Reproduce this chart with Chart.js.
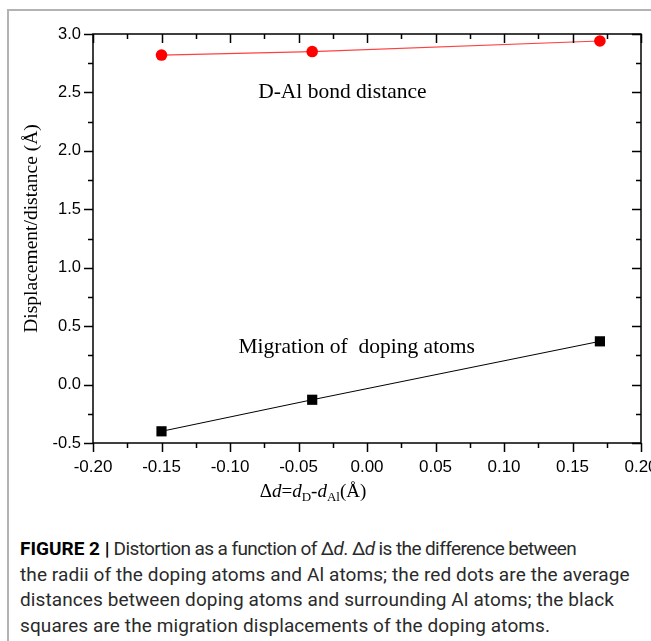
<!DOCTYPE html>
<html>
<head>
<meta charset="utf-8">
<script src="https://cdn.jsdelivr.net/npm/chart.js@4.4.0/dist/chart.umd.min.js"></script>
<style>
  html, body { margin: 0; padding: 0; background: #fff; }
  body { width: 651px; height: 641px; overflow: hidden; position: relative; }
  #frame { position: absolute; left: 7px; top: 9px; width: 660px; height: 650px;
           border-top: 2px solid #b3b3b3; border-left: 2px solid #b3b3b3; }
  #chart { position: absolute; left: 0; top: 0; }
  #xtitle { position: absolute; left: 213px; width: 200px; top: 479px; text-align: center;
            font-family: "Liberation Serif", serif; font-size: 19px; line-height: 24px; color: #000; white-space: nowrap; }
  #xtitle sub { font-size: 13px; vertical-align: -4px; line-height: 0; }
  #caption { position: absolute; left: 20px; top: 536px; font-family: Roboto, sans-serif;
             font-size: 19px; letter-spacing: 0.1px; line-height: 25.7px; color: #2a2a2a; white-space: nowrap; }
  #caption b { color: #000; letter-spacing: 0; }
  #caption .tight { letter-spacing: -0.6px; }
</style>
</head>
<body>
<div id="frame"></div>
<canvas id="chart" width="680" height="520"></canvas>
<div id="xtitle">&Delta;<i>d</i>=<i>d</i><sub>D</sub>-<i>d</i><sub>Al</sub>(&Aring;)</div>
<div id="caption"><b>FIGURE 2 |</b><span class="tight"> Distortion as a function of &Delta;<i>d</i>. &Delta;<i>d</i> is the difference between</span><br>the radii of the doping atoms and Al atoms; the red dots are the average<br>distances between doping atoms and surrounding Al atoms; the black<br>squares are the migration displacements of the doping atoms.</div>
<script>
// Data
var deltaD = [-0.15, -0.04, 0.17];
var bondDistance = [2.82, 2.85, 2.94];
var migration = [-0.40, -0.13, 0.37];

// Axis ranges (major label every other step)
var xMin = -0.20, xMax = 0.20, xStep = 0.025;
var yMin = -0.5, yMax = 3.0, yStep = 0.25;

var yTitle = "Displacement/distance (\u00C5)";
var bondLabel = "D-Al bond distance";
var migrationLabel = "Migration of  doping atoms";

function toPoints(xs, ys){
  return xs.map(function (x, i) { return { x: x, y: ys[i] }; });
}

// box, inward/outward ticks, annotations and y title
var framePlugin = {
  id: "framePlugin",
  afterDraw: function (chart) {
    var ctx = chart.ctx;
    var a = chart.chartArea;
    var xs = chart.scales.x;
    var ys = chart.scales.y;
    ctx.save();
    ctx.strokeStyle = "#000";
    ctx.lineWidth = 1.5;
    ctx.strokeRect(a.left, a.top, a.right - a.left, a.bottom - a.top);
    ctx.beginPath();
    xs.ticks.forEach(function (t, i) {
      var px = Math.round(xs.getPixelForValue(t.value)) + 0.5;
      var len = i % 2 === 0 ? 9 : 5;
      ctx.moveTo(px, a.bottom); ctx.lineTo(px, a.bottom + len);
      ctx.moveTo(px, a.top); ctx.lineTo(px, a.top + len);
    });
    ys.ticks.forEach(function (t, i) {
      var py = Math.round(ys.getPixelForValue(t.value)) + 0.5;
      var len = i % 2 === 0 ? 9 : 5;
      ctx.moveTo(a.left, py); ctx.lineTo(a.left - len, py);
      ctx.moveTo(a.right, py); ctx.lineTo(a.right - len, py);
    });
    ctx.stroke();

    ctx.fillStyle = "#000";
    ctx.textAlign = "center";
    ctx.textBaseline = "alphabetic";
    ctx.font = '21.5px "Liberation Serif"';
    ctx.fillText(bondLabel, xs.getPixelForValue(-0.018), ys.getPixelForValue(2.45));
    ctx.fillText(migrationLabel, xs.getPixelForValue(-0.0075), ys.getPixelForValue(0.27));

    ctx.translate(32, (a.top + a.bottom) / 2 - 10);
    ctx.rotate(-Math.PI / 2);
    ctx.textBaseline = "middle";
    ctx.font = '19.5px "Liberation Serif"';
    ctx.fillText(yTitle, 0, 0);
    ctx.restore();
  }
};

var ctx = document.getElementById("chart").getContext("2d");
var myChart = new Chart(ctx, {
  type: "scatter",
  data: {
    datasets: [{
      label: "D-Al bond distance",
      data: toPoints(deltaD, bondDistance),
      showLine: true,
      borderColor: "#ff4040",
      borderWidth: 1.2,
      backgroundColor: "#ff0000",
      pointBackgroundColor: "#ff0000",
      pointBorderWidth: 0,
      pointRadius: 5.8,
      pointStyle: "circle"
    }, {
      label: "Migration of doping atoms",
      data: toPoints(deltaD, migration),
      showLine: true,
      borderColor: "#000",
      borderWidth: 1,
      backgroundColor: "#000",
      pointBackgroundColor: "#000",
      pointBorderWidth: 0,
      pointRadius: 7.2,
      pointStyle: "rect"
    }]
  },
  options: {
    responsive: false,
    animation: false,
    devicePixelRatio: 1,
    layout: { padding: { left: 0, top: 34, right: 39, bottom: 0 } },
    plugins: { legend: { display: false }, tooltip: { enabled: false } },
    scales: {
      x: {
        type: "linear",
        min: xMin, max: xMax,
        grid: { display: false, drawTicks: false },
        border: { display: false },
        afterFit: function (scale) { scale.height = 77; },
        ticks: {
          stepSize: xStep,
          autoSkip: false,
          maxRotation: 0,
          padding: 14,
          color: "#000",
          font: { family: "'Liberation Sans'", size: 17 },
          callback: function (value, index) {
            if (index % 2 !== 0) return "";
            if (Math.abs(value) < 1e-9) value = 0;
            return value.toFixed(2);
          }
        }
      },
      y: {
        type: "linear",
        min: yMin, max: yMax,
        grid: { display: false, drawTicks: false },
        border: { display: false },
        afterFit: function (scale) { scale.width = 93; },
        ticks: {
          stepSize: yStep,
          autoSkip: false,
          padding: 12,
          color: "#000",
          font: { family: "'Liberation Sans'", size: 16.5 },
          callback: function (value, index) {
            if (index % 2 !== 0) return "";
            if (Math.abs(value) < 1e-9) value = 0;
            return value.toFixed(1);
          }
        }
      }
    }
  },
  plugins: [framePlugin]
});
</script>
</body>
</html>
